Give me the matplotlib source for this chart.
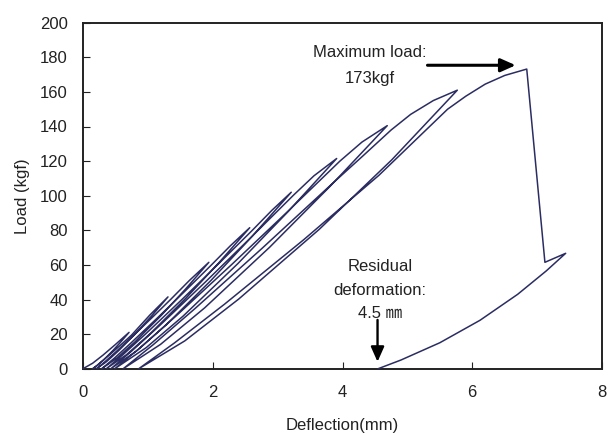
import matplotlib
matplotlib.use("Agg")
import matplotlib.pyplot as plt
import numpy as np

# ---- data: deflection (mm) / load (kgf) branches ----
load1_x = [0, 0.15, 0.31, 0.5, 0.71]
load1_y = [0, 3.2, 7.9, 14, 21]
unload1_x = [0.71, 0.589, 0.461, 0.322, 0.229, 0.15]
unload1_y = [21, 15.75, 10.5, 5.25, 2.1, 0]

load2_x = [0.15, 0.217, 0.311, 0.461, 0.607, 0.75, 1.03, 1.31]
load2_y = [0, 1.95, 4.9, 9.75, 14.6, 19.5, 31, 41.5]
unload2_x = [1.31, 1.072, 0.820, 0.549, 0.365, 0.21]
unload2_y = [41.5, 31.1, 20.75, 10.4, 4.15, 0]

load3_x = [0.21, 0.338, 0.515, 0.800, 1.078, 1.35, 1.64, 1.94]
load3_y = [0, 4, 10, 20, 30, 40, 51, 61.5]
unload3_x = [1.94, 1.582, 1.205, 0.798, 0.523, 0.29]
unload3_y = [61.5, 46.1, 30.75, 15.4, 6.15, 0]

load4_x = [0.29, 0.480, 0.743, 1.165, 1.576, 1.98, 2.27, 2.57]
load4_y = [0, 6, 15, 30, 45, 60, 71, 81.5]
unload4_x = [2.57, 2.091, 1.586, 1.040, 0.672, 0.36]
unload4_y = [81.5, 61.1, 40.75, 20.4, 8.15, 0]

load5_x = [0.36, 0.613, 0.963, 1.525, 2.072, 2.61, 2.91, 3.21]
load5_y = [0, 8, 20, 40, 60, 80, 91.5, 102]
unload5_x = [3.21, 2.607, 1.972, 1.286, 0.823, 0.43]
unload5_y = [102, 76.5, 51, 25.5, 10.2, 0]

load6_x = [0.43, 0.746, 1.186, 1.890, 2.576, 3.25, 3.56, 3.91]
load6_y = [0, 10.05, 25.1, 50.25, 75.4, 100.5, 111.5, 121.5]
unload6_x = [3.91, 3.169, 2.387, 1.543, 0.973, 0.49]
unload6_y = [121.5, 91.1, 60.75, 30.4, 12.15, 0]

load7_x = [0.49, 0.879, 1.420, 2.286, 3.131, 3.96, 4.30, 4.69]
load7_y = [0, 12, 30, 60, 90, 120, 131, 140.5]
unload7_x = [4.69, 3.808, 2.878, 1.873, 1.195, 0.62]
unload7_y = [140.5, 105.4, 70.25, 35.1, 14.05, 0]

load8_x = [0.62, 1.083, 1.726, 2.758, 3.763, 4.30, 4.75, 5.05, 5.40, 5.77]
load8_y = [0, 13.9, 34.75, 69.5, 104.25, 122.5, 138, 147, 155, 161]
unload8_x = [5.77, 4.760, 3.640, 2.400, 1.570, 0.86]
unload8_y = [161, 120.75, 80.5, 40.25, 16.1, 0]

load9_x = [0.86, 1.410, 2.180, 3.400, 4.560, 5.62, 5.90, 6.20, 6.50, 6.84]
load9_y = [0, 14.9, 37.25, 74.5, 111.75, 150, 157.5, 164.5, 169.5, 173.2]
fail_x = [6.84, 7.12, 7.44]
fail_y = [173.2, 61.5, 66.7]
unload9_x = [7.44, 7.14, 6.70, 6.12, 5.50, 4.90, 4.55]
unload9_y = [66.7, 56.5, 43, 28, 15, 5, 0]

x_ticks = [0, 2, 4, 6, 8]
y_ticks = [0, 20, 40, 60, 80, 100, 120, 140, 160, 180, 200]

branches_x = [load1_x, unload1_x, load2_x, unload2_x, load3_x, unload3_x,
              load4_x, unload4_x, load5_x, unload5_x, load6_x, unload6_x,
              load7_x, unload7_x, load8_x, unload8_x, load9_x, fail_x, unload9_x]
branches_y = [load1_y, unload1_y, load2_y, unload2_y, load3_y, unload3_y,
              load4_y, unload4_y, load5_y, unload5_y, load6_y, unload6_y,
              load7_y, unload7_y, load8_y, unload8_y, load9_y, fail_y, unload9_y]

path_x = np.concatenate([np.asarray(b, float) for b in branches_x])
path_y = np.concatenate([np.asarray(b, float) for b in branches_y])

plt.rcParams['font.family'] = ['Liberation Sans', 'Noto Sans CJK JP', 'DejaVu Sans']

fig = plt.figure(figsize=(6.08, 4.34), dpi=100)
ax = fig.add_axes([83 / 608, 1 - 368.7 / 434, (602 - 83) / 608, (368.7 - 22.7) / 434])

ax.plot(path_x, path_y, color='#2B2D62', lw=1.1, solid_joinstyle='round',
        solid_capstyle='round', clip_on=False, zorder=3)

ax.set_xlim(0, 8)
ax.set_ylim(0, 200)
ax.set_xticks(x_ticks)
ax.set_yticks(y_ticks)
ax.tick_params(axis='both', direction='in', length=5, width=0.8, labelsize=12,
               colors='#222222')
ax.tick_params(axis='x', pad=12)
ax.tick_params(axis='y', pad=11)
for s in ax.spines.values():
    s.set_linewidth(1.4)
    s.set_color('#222222')

ax.set_xlabel('Deflection(mm)', fontsize=12, color='#222222', labelpad=13)
ax.set_ylabel('Load (kgf)', fontsize=12, color='#222222', labelpad=7)

txtc = '#222222'
ax.text(4.42, 182.5, 'Maximum load:', ha='center', va='center', fontsize=12, color=txtc)
ax.text(4.42, 167.5, '173kgf', ha='center', va='center', fontsize=12, color=txtc)
ax.annotate('', xy=(6.67, 175.4), xytext=(5.31, 175.4),
            arrowprops=dict(arrowstyle='-|>,head_length=0.9,head_width=0.4',
                            lw=2.2, color='black', shrinkA=0, shrinkB=0,
                            mutation_scale=10))

ax.text(4.58, 59.3, 'Residual', ha='center', va='center', fontsize=12, color=txtc)
ax.text(4.58, 45.4, 'deformation:', ha='center', va='center', fontsize=12, color=txtc)
ax.text(4.58, 32.0, '4.5 \u339c', ha='center', va='center', fontsize=12, color=txtc)
ax.annotate('', xy=(4.54, 4.0), xytext=(4.54, 28.2),
            arrowprops=dict(arrowstyle='-|>,head_length=0.9,head_width=0.4',
                            lw=1.7, color='black', shrinkA=0, shrinkB=0,
                            mutation_scale=10))

fig.savefig('out.png', dpi=100)
